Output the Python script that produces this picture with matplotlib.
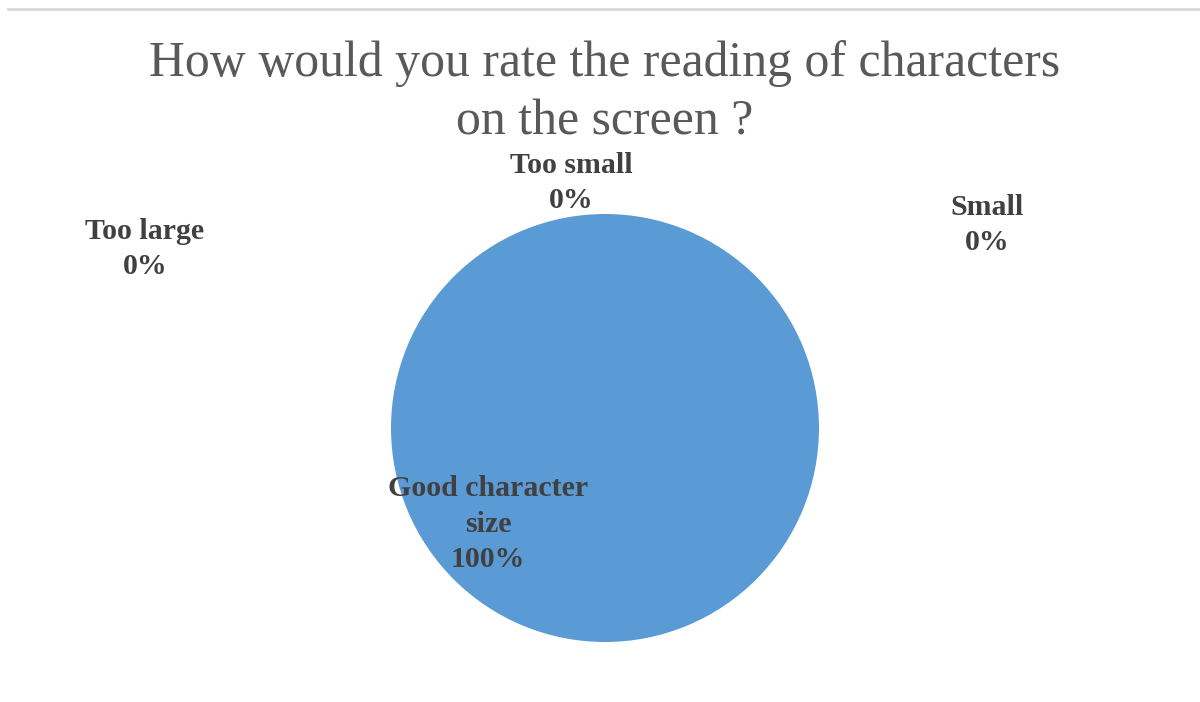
import matplotlib.pyplot as plt
from matplotlib.lines import Line2D

categories = ["Good character size", "Too small", "Small", "Too large"]
shares = [100, 0, 0, 0]
label_texts = ["Good character\nsize\n100%", "Too small\n0%", "Small\n0%", "Too large\n0%"]
title = "How would you rate the reading of characters\non the screen ?"

W, H = 1200, 702
fig = plt.figure(figsize=(W / 100, H / 100), dpi=100)
ax = fig.add_axes([0, 0, 1, 1])

# thin frame line along the top
fig.add_artist(Line2D([8 / W, 1], [1 - 9 / H, 1 - 9 / H], color="#d9d9d9", lw=2))

colors = ["#5B9BD5", "#ED7D31", "#A5A5A5", "#FFC000"]
ax.pie(shares, colors=colors, center=(605, H - 428), radius=214,
       startangle=90, counterclock=False, frame=True,
       wedgeprops=dict(linewidth=0))
ax.set_xlim(0, W)
ax.set_ylim(0, H)
ax.set_aspect("equal")
ax.axis("off")

serif = ["Liberation Serif", "DejaVu Serif"]
ax.text(605, H - 93, title, ha="center", va="center", fontsize=35.8,
        family=serif, color="#595959", linespacing=1.33)

label_pos = [(488, 524), (571, 183), (987, 225), (145, 249)]
for txt, (x, y) in zip(label_texts, label_pos):
    ax.text(x, H - y, txt, ha="center", va="center", fontsize=21.5,
            family=serif, fontweight="bold", color="#404040", linespacing=1.42)

fig.savefig("out.png", dpi=100)
